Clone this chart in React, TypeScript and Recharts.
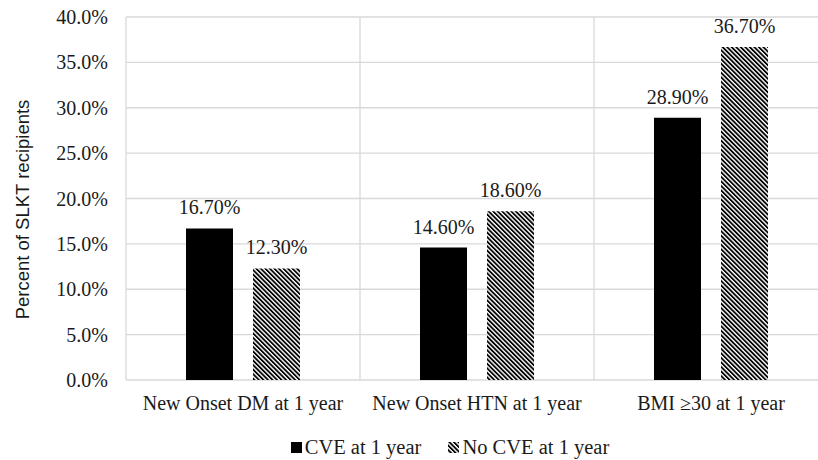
import React from 'react';
import {
  BarChart, Bar, XAxis, YAxis, CartesianGrid, Legend, LabelList, Label,
} from 'recharts';

const CATEGORIES = ['New Onset DM at 1 year', 'New Onset HTN at 1 year', 'BMI \u226530 at 1 year'];
const CVE = [16.7, 14.6, 28.9];
const NO_CVE = [12.3, 18.6, 36.7];
const Y_TICKS = [0, 5, 10, 15, 20, 25, 30, 35, 40];
const SERIES_NAMES = ['CVE at 1 year', 'No CVE at 1 year'];

const data = CATEGORIES.map((name, i) => ({ name, cve: CVE[i], noCve: NO_CVE[i] }));

const SERIF = '"Liberation Serif", "Times New Roman", serif';
const SANS = '"Liberation Sans", Arial, sans-serif';
const TEXT = '#1a1a1a';
const GRID = '#d9d9d9';

function HatchDef({ id }: { id: string }) {
  return (
    <pattern id={id} patternUnits="userSpaceOnUse" width={3.2} height={3.2}
      patternTransform="rotate(-45)">
      <rect x={0} y={0} width={3.2} height={3.2} fill="#fff" />
      <rect x={0} y={0} width={1.8} height={3.2} fill="#000" />
    </pattern>
  );
}

function LegendContent() {
  const item = (label: string, hatched: boolean) => (
    <span style={{ display: 'inline-flex', alignItems: 'center', marginRight: hatched ? 0 : 27 }}>
      <svg width={11} height={11} style={{ marginRight: 3 }}>
        {hatched && <defs><HatchDef id="legendHatch" /></defs>}
        <rect x={0} y={0} width={11} height={11} fill={hatched ? 'url(#legendHatch)' : '#000'} />
      </svg>
      {label}
    </span>
  );
  return (
    <div style={{ fontFamily: SERIF, fontSize: 20.5, color: TEXT, display: 'flex',
      justifyContent: 'center', alignItems: 'center', height: 25, whiteSpace: 'nowrap',
      paddingLeft: 72 }}>
      {item(SERIES_NAMES[0], false)}
      {item(SERIES_NAMES[1], true)}
    </div>
  );
}

export default function App() {
  return (
    <div style={{ position: 'absolute', left: 0, top: 0, width: 818, height: 460,
      overflow: 'hidden', background: '#fff' }}>
      <BarChart width={900} height={460} data={data}
        margin={{ top: 17, right: 72, left: 0, bottom: 0 }}
        barSize={47} barGap={20}>
        <defs>
          <HatchDef id="barHatch" />
        </defs>
        <CartesianGrid stroke={GRID} strokeWidth={1.3}
          verticalCoordinatesGenerator={({ offset }: any) =>
            [0, 1, 2, 3].map((i) => offset.left + (offset.width * i) / 3)} />
        <XAxis dataKey="name" axisLine={false} tickLine={false} tickSize={0} tickMargin={16}
          height={55} interval={0}
          tick={{ fontFamily: SERIF, fontSize: 20, fill: TEXT }} />
        <YAxis width={126} domain={[0, 40]} ticks={Y_TICKS} axisLine={false} tickLine={false}
          tickSize={0} tickMargin={18} interval={0}
          tickFormatter={(v) => `${Number(v).toFixed(1)}%`}
          tick={{ fontFamily: SERIF, fontSize: 20, fill: TEXT }}>
          <Label content={({ viewBox }: any) => {
            const cy = viewBox.y + viewBox.height / 2 + 11;
            return (
              <text x={29} y={cy} transform={`rotate(-90, 29, ${cy})`} textAnchor="middle"
                fontFamily={SANS} fontSize={18.5} fill={TEXT}>
                Percent of SLKT recipients
              </text>
            );
          }} />
        </YAxis>
        <Legend verticalAlign="bottom" height={25} content={<LegendContent />} />
        <Bar dataKey="cve" name={SERIES_NAMES[0]} fill="#000" isAnimationActive={false}>
          <LabelList dataKey="cve" position="top" offset={14}
            formatter={(v: any) => `${Number(v).toFixed(2)}%`}
            style={{ fontFamily: SERIF, fontSize: 20, fill: TEXT }} />
        </Bar>
        <Bar dataKey="noCve" name={SERIES_NAMES[1]} fill="url(#barHatch)" isAnimationActive={false}>
          <LabelList dataKey="noCve" position="top" offset={14}
            formatter={(v: any) => `${Number(v).toFixed(2)}%`}
            style={{ fontFamily: SERIF, fontSize: 20, fill: TEXT }} />
        </Bar>
      </BarChart>
    </div>
  );
}
